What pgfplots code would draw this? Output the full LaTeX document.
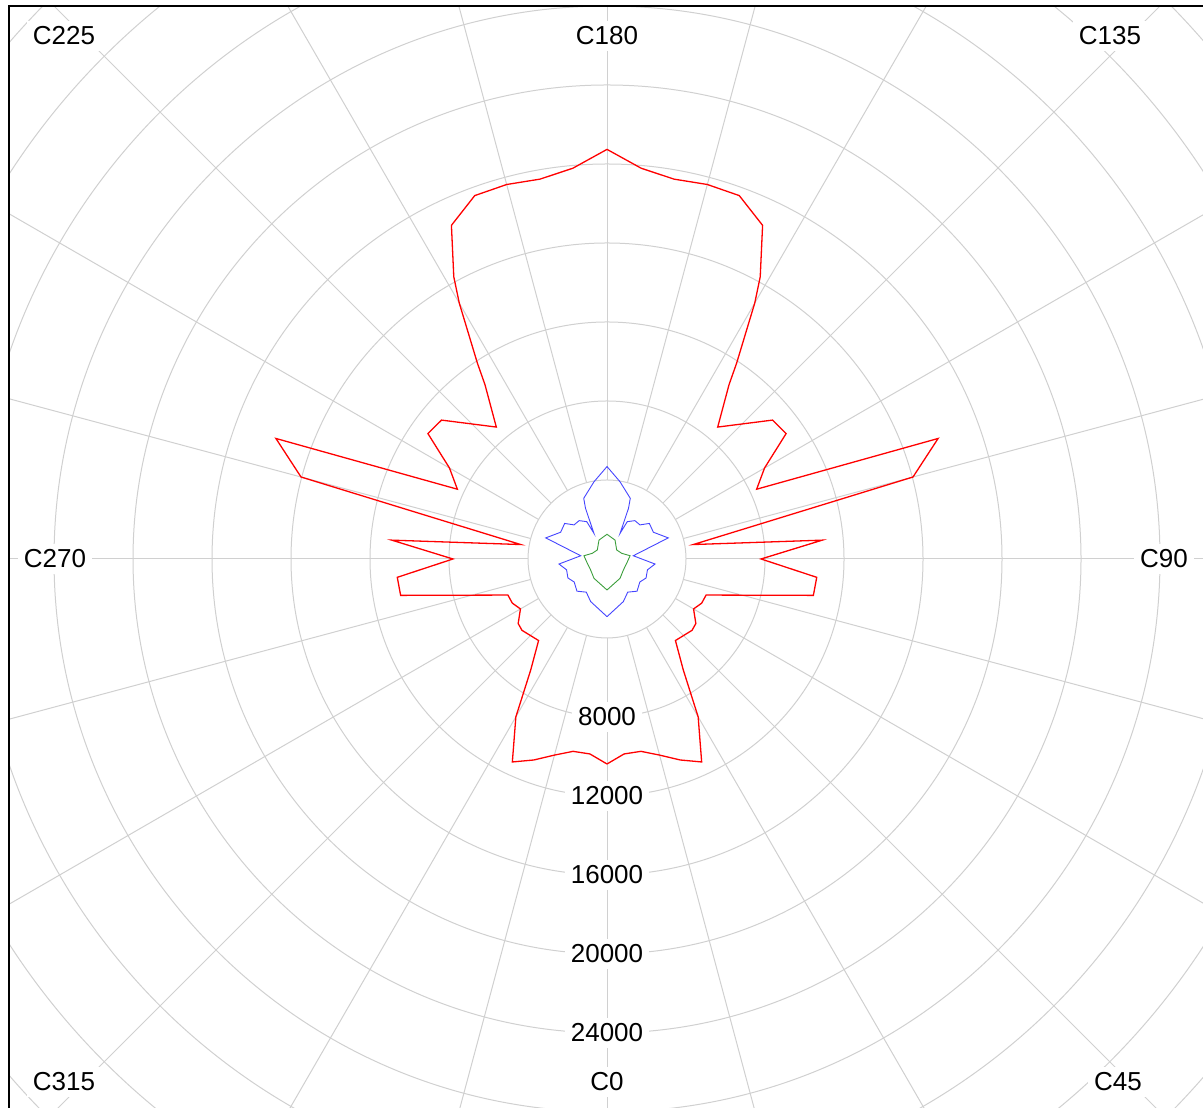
\documentclass[border=0pt]{standalone}
\usepackage{pgfplots}
\pgfplotsset{compat=1.18}
\usepackage{pgfplotstable}
\usepgfplotslibrary{polar}
\usepackage{fontspec}
\setmainfont{Liberation Sans}

\definecolor{gridc}{HTML}{D0D0D0}
\definecolor{bluec}{HTML}{4545FF}
\definecolor{greenc}{HTML}{3C9E3C}

% candela values, C-plane angle in degrees
\pgfplotstableread{
C I
0 10380
5 9910
10 9890
15 10280
20 10830
25 11340
30 9230
34.5 6820
40 5390
50 5620
54 5560
60 5060
65 5290
70 5340
80 10610
85 10660
90 7800
95 10940
99.5 4430
105 16040
110 17840
115 8360
120 9210
125 11070
130 10940
140 8720
145 10770
146.5 11890
150 14960
151.5 16260
155 18640
160 19580
165 19630
170 19530
175 19860
180 20740
185 19860
190 19530
195 19630
200 19580
205 18640
208.5 16260
210 14960
213.5 11890
215 10770
220 8720
230 10940
235 11070
240 9210
245 8360
250 17840
255 16040
260.5 4430
265 10940
270 7800
275 10660
280 10610
290 5340
295 5290
300 5060
306 5560
310 5620
320 5390
325.5 6820
330 9230
335 11340
340 10830
345 10280
350 9890
355 9910
360 10380
}\redtab

\pgfplotstableread{
C I
0 2920
21 2310
32 1980
43 2230
55 2030
64 2200
75 2120
84 2445
97 1340
109 3280
120 2710
130 2800
136 2400
144 2400
151.5 2150
153 1460
157 2785
159 3290
170.5 3970
180 4680
189.5 3970
201 3290
203 2785
207 1460
208.5 2150
216 2400
224 2400
230 2800
240 2710
251 3280
263 1340
276 2445
285 2120
296 2200
305 2030
317 2230
328 1980
339 2310
360 2920
}\bluetab

\pgfplotstableread{
C I
0 1570
34 1180
56 1000
82 1040
98 1180
111 800
133 670
157 1040
180 1250
203 1040
227 670
249 800
262 1180
278 1040
304 1000
326 1180
360 1570
}\greentab

\begin{document}
\begin{tikzpicture}[
  lbl/.style={fill=white, inner sep=3pt, font=\fontsize{13}{15}\selectfont}
]
% axis works in thousands of cd
\begin{axis}[
  scale only axis,
  width=597pt, height=551pt,
  xmin=-30.279, xmax=30.177,
  ymin=-27.798, ymax=28.000,
  hide axis,
  clip=true,
]
% polar grid
\pgfplotsinvokeforeach{4,8,...,48}{
  \draw[gridc, line width=0.5pt] (axis cs:0,0) circle[radius=#1];
}
\pgfplotsinvokeforeach{0,15,...,345}{
  \draw[gridc, line width=0.5pt] (axis cs:{4*cos(#1)},{4*sin(#1)}) -- (axis cs:{50*cos(#1)},{50*sin(#1)});
}

\addplot[red, line width=0.65pt, data cs=polar] table[x expr=\thisrow{C}-90, y expr=\thisrow{I}/1000] {\redtab};
\addplot[bluec, line width=0.45pt, data cs=polar] table[x expr=\thisrow{C}-90, y expr=\thisrow{I}/1000] {\bluetab};
\addplot[greenc, line width=0.45pt, data cs=polar] table[x expr=\thisrow{C}-90, y expr=\thisrow{I}/1000] {\greentab};

% radial labels
\node[lbl] at (axis cs:0,-8) {8000};
\node[lbl] at (axis cs:0,-12) {12000};
\node[lbl] at (axis cs:0,-16) {16000};
\node[lbl] at (axis cs:0,-20) {20000};
\node[lbl] at (axis cs:0,-24) {24000};

% C-plane labels
\node[lbl] at (axis cs:0,26.481) {C180};
\node[lbl] at (axis cs:0,-26.481) {C0};
\node[lbl] at (axis cs:28.203,0) {C90};
\node[lbl] at (axis cs:-27.949,0) {C270};
\node[lbl] at (axis cs:25.873,-26.481) {C45};
\node[lbl] at (axis cs:25.468,26.481) {C135};
\node[lbl] at (axis cs:-27.494,26.481) {C225};
\node[lbl] at (axis cs:-27.494,-26.481) {C315};

\coordinate (bl) at (rel axis cs:0,0);
\coordinate (tl) at (rel axis cs:0,1);
\coordinate (tr) at (rel axis cs:1,1);
\end{axis}
\draw[black, line width=0.75pt] (bl) -- (tl) -- (tr);
\pgfresetboundingbox
\useasboundingbox ([xshift=-4.5pt]bl) rectangle ([yshift=3pt]tr);
\end{tikzpicture}
\end{document}
